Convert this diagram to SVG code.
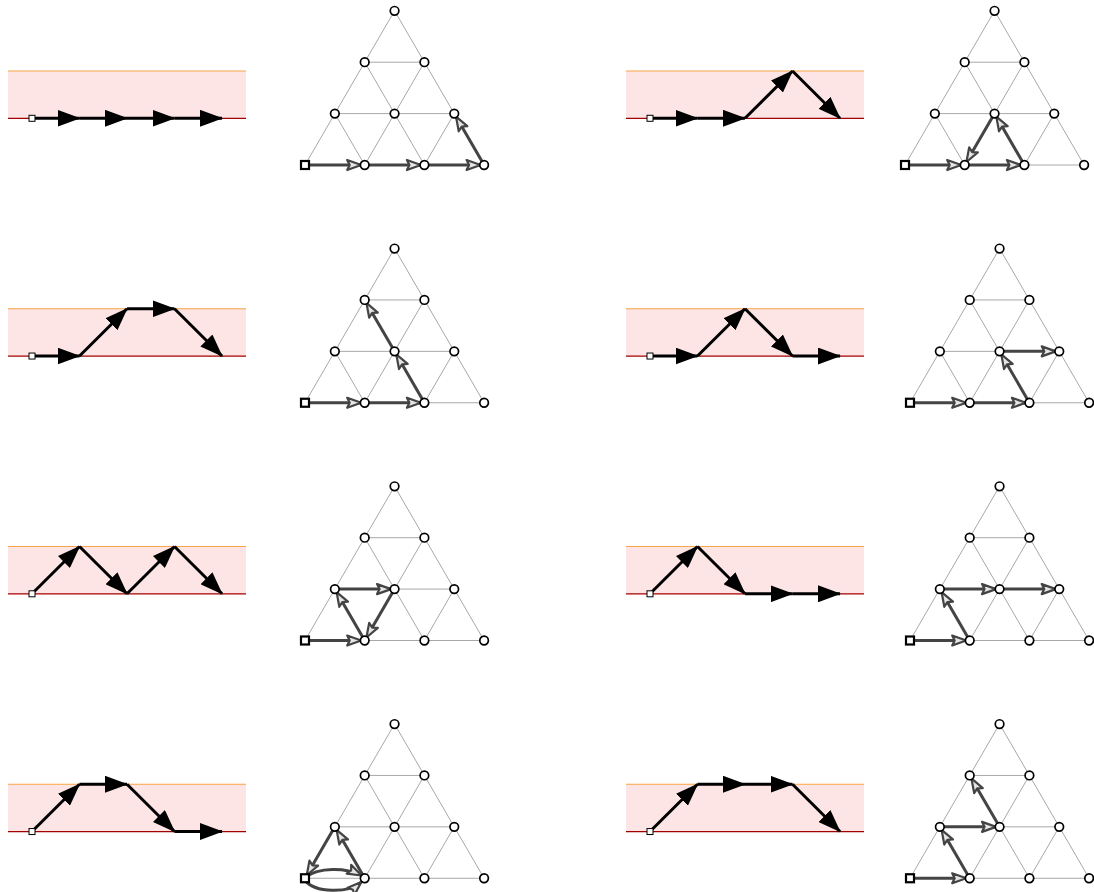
<svg xmlns="http://www.w3.org/2000/svg" xmlns:xlink="http://www.w3.org/1999/xlink" width="1094" height="892" viewBox="0 0 1094 892">
<style>
.band{fill:#fde4e5;stroke:none}
.top{stroke:#f7a546;stroke-width:1.2}
.bot{stroke:#a40000;stroke-width:1.2}
.grid{stroke:#a8a8a8;stroke-width:1;fill:none}
.node{fill:#ffffff;stroke:#000000;stroke-width:1.7}
.start{fill:#ffffff;stroke:#000000;stroke-width:2.2}
.sstart{fill:#ffffff;stroke:#000000;stroke-width:1}
.walk{stroke:#000000;stroke-width:3;fill:none;marker-end:url(#bigArrow)}
.tw{stroke:#444444;stroke-width:3;fill:none;marker-end:url(#openArrow)}
</style>
<defs>
<marker id="bigArrow" markerUnits="userSpaceOnUse" viewBox="0 0 23 17" markerWidth="23" markerHeight="17" refX="22" refY="8.5" orient="auto">
<path d="M0,0 L23,8.5 L0,17 z" fill="#000000"/>
</marker>
<marker id="openArrow" markerUnits="userSpaceOnUse" viewBox="-3 -3 20 16" markerWidth="20" markerHeight="16" refX="13.5" refY="5" orient="auto">
<path d="M0,0 L14,5 L0,10 L2.5,5 z" fill="#e6e6e6" stroke="#444444" stroke-width="2.2" stroke-linejoin="round"/>
</marker>
<g id="lattice" class="grid">
<path d="M0,0 H179.1 M29.85,-51.4 H149.25 M59.7,-102.8 H119.4 M0,0 L89.55,-154.2 M59.7,0 L119.4,-102.8 M119.4,0 L149.25,-51.4 M179.1,0 L89.55,-154.2 M119.4,0 L59.7,-102.8 M59.7,0 L29.85,-51.4"/>
</g>
<g id="latnodes">
<circle class="node" cx="59.7" cy="0" r="4.3"/>
<circle class="node" cx="119.4" cy="0" r="4.3"/>
<circle class="node" cx="179.1" cy="0" r="4.3"/>
<circle class="node" cx="29.85" cy="-51.4" r="4.3"/>
<circle class="node" cx="89.55" cy="-51.4" r="4.3"/>
<circle class="node" cx="149.25" cy="-51.4" r="4.3"/>
<circle class="node" cx="59.7" cy="-102.8" r="4.3"/>
<circle class="node" cx="119.4" cy="-102.8" r="4.3"/>
<circle class="node" cx="89.55" cy="-154.2" r="4.3"/>
<rect class="start" x="-4" y="-4" width="8" height="8"/>
</g>
<g id="bandbg">
<rect class="band" x="8" y="71" width="238" height="47.3"/>
<line class="top" x1="8" y1="71" x2="246" y2="71"/>
<line class="bot" x1="8" y1="118.3" x2="246" y2="118.3"/>
</g>
</defs>

<!-- band backgrounds -->
<g id="bands">
<use xlink:href="#bandbg" href="#bandbg"/>
<use xlink:href="#bandbg" href="#bandbg" transform="translate(618,0)"/>
<use xlink:href="#bandbg" href="#bandbg" transform="translate(0,237.75)"/>
<use xlink:href="#bandbg" href="#bandbg" transform="translate(618,237.75)"/>
<use xlink:href="#bandbg" href="#bandbg" transform="translate(0,475.5)"/>
<use xlink:href="#bandbg" href="#bandbg" transform="translate(618,475.5)"/>
<use xlink:href="#bandbg" href="#bandbg" transform="translate(0,713.25)"/>
<use xlink:href="#bandbg" href="#bandbg" transform="translate(618,713.25)"/>
</g>

<!-- lattice grids -->
<g id="grids">
<use xlink:href="#lattice" href="#lattice" transform="translate(305,165)"/>
<use xlink:href="#lattice" href="#lattice" transform="translate(905,165)"/>
<use xlink:href="#lattice" href="#lattice" transform="translate(305,402.75)"/>
<use xlink:href="#lattice" href="#lattice" transform="translate(910,402.75)"/>
<use xlink:href="#lattice" href="#lattice" transform="translate(305,640.5)"/>
<use xlink:href="#lattice" href="#lattice" transform="translate(910,640.5)"/>
<use xlink:href="#lattice" href="#lattice" transform="translate(305,878.25)"/>
<use xlink:href="#lattice" href="#lattice" transform="translate(910,878.25)"/>
</g>

<!-- connectors -->
<g id="connectors">
<!-- band walks -->
<g id="walk-1L">
<path class="walk" d="M32,118.3 L79.5,118.3"/>
<path class="walk" d="M79.5,118.3 L127,118.3"/>
<path class="walk" d="M127,118.3 L174.5,118.3"/>
<path class="walk" d="M174.5,118.3 L222,118.3"/>
</g>
<g id="walk-1R" transform="translate(618,0)">
<path class="walk" d="M32,118.3 L79.5,118.3"/>
<path class="walk" d="M79.5,118.3 L127,118.3"/>
<path class="walk" d="M127,118.3 L174.5,71"/>
<path class="walk" d="M174.5,71 L222,118.3"/>
</g>
<g id="walk-2L" transform="translate(0,237.75)">
<path class="walk" d="M32,118.3 L79.5,118.3"/>
<path class="walk" d="M79.5,118.3 L127,71"/>
<path class="walk" d="M127,71 L174.5,71"/>
<path class="walk" d="M174.5,71 L222,118.3"/>
</g>
<g id="walk-2R" transform="translate(618,237.75)">
<path class="walk" d="M32,118.3 L79.5,118.3"/>
<path class="walk" d="M79.5,118.3 L127,71"/>
<path class="walk" d="M127,71 L174.5,118.3"/>
<path class="walk" d="M174.5,118.3 L222,118.3"/>
</g>
<g id="walk-3L" transform="translate(0,475.5)">
<path class="walk" d="M32,118.3 L79.5,71"/>
<path class="walk" d="M79.5,71 L127,118.3"/>
<path class="walk" d="M127,118.3 L174.5,71"/>
<path class="walk" d="M174.5,71 L222,118.3"/>
</g>
<g id="walk-3R" transform="translate(618,475.5)">
<path class="walk" d="M32,118.3 L79.5,71"/>
<path class="walk" d="M79.5,71 L127,118.3"/>
<path class="walk" d="M127,118.3 L174.5,118.3"/>
<path class="walk" d="M174.5,118.3 L222,118.3"/>
</g>
<g id="walk-4L" transform="translate(0,713.25)">
<path class="walk" d="M32,118.3 L79.5,71"/>
<path class="walk" d="M79.5,71 L127,71"/>
<path class="walk" d="M127,71 L174.5,118.3"/>
<path class="walk" d="M174.5,118.3 L222,118.3"/>
</g>
<g id="walk-4R" transform="translate(618,713.25)">
<path class="walk" d="M32,118.3 L79.5,71"/>
<path class="walk" d="M79.5,71 L127,71"/>
<path class="walk" d="M127,71 L174.5,71"/>
<path class="walk" d="M174.5,71 L222,118.3"/>
</g>

<!-- triangle walks -->
<g id="tri-walk-1L" transform="translate(305,165)">
<path class="tw" d="M0,0 L55.7,0"/>
<path class="tw" d="M59.7,0 L115.4,0"/>
<path class="tw" d="M119.4,0 L175.1,0"/>
<path class="tw" d="M179.1,0 L151.25,-47.96"/>
</g>
<g id="tri-walk-1R" transform="translate(905,165)">
<path class="tw" d="M0,0 L55.7,0"/>
<path class="tw" d="M59.7,0 L115.4,0"/>
<path class="tw" d="M119.4,0 L91.55,-47.96"/>
<path class="tw" d="M89.55,-51.4 L61.7,-3.44"/>
</g>
<g id="tri-walk-2L" transform="translate(305,402.75)">
<path class="tw" d="M0,0 L55.7,0"/>
<path class="tw" d="M59.7,0 L115.4,0"/>
<path class="tw" d="M119.4,0 L91.55,-47.96"/>
<path class="tw" d="M89.55,-51.4 L61.7,-99.36"/>
</g>
<g id="tri-walk-2R" transform="translate(910,402.75)">
<path class="tw" d="M0,0 L55.7,0"/>
<path class="tw" d="M59.7,0 L115.4,0"/>
<path class="tw" d="M119.4,0 L91.55,-47.96"/>
<path class="tw" d="M89.55,-51.4 L145.25,-51.4"/>
</g>
<g id="tri-walk-3L" transform="translate(305,640.5)">
<path class="tw" d="M0,0 L55.7,0"/>
<path class="tw" d="M59.7,0 L31.85,-47.96"/>
<path class="tw" d="M29.85,-51.4 L85.55,-51.4"/>
<path class="tw" d="M89.55,-51.4 L61.7,-3.44"/>
</g>
<g id="tri-walk-3R" transform="translate(910,640.5)">
<path class="tw" d="M0,0 L55.7,0"/>
<path class="tw" d="M59.7,0 L31.85,-47.96"/>
<path class="tw" d="M29.85,-51.4 L85.55,-51.4"/>
<path class="tw" d="M89.55,-51.4 L145.25,-51.4"/>
</g>
<g id="tri-walk-4L" transform="translate(305,878.25)">
<path class="tw" d="M0,-1 C14,-11 40,-11 56,-3"/>
<path class="tw" d="M59.7,0 L31.85,-47.96"/>
<path class="tw" d="M29.85,-51.4 L2,-3.44"/>
<path class="tw" d="M0,2 C10,15 44,15 56,4"/>
</g>
<g id="tri-walk-4R" transform="translate(910,878.25)">
<path class="tw" d="M0,0 L55.7,0"/>
<path class="tw" d="M59.7,0 L31.85,-47.96"/>
<path class="tw" d="M29.85,-51.4 L85.55,-51.4"/>
<path class="tw" d="M89.55,-51.4 L61.7,-99.36"/>
</g>
</g>

<!-- band start nodes -->
<g id="start-1L"><rect class="sstart" x="29" y="115.3" width="6" height="6"/></g>
<g id="start-1R"><rect class="sstart" x="647" y="115.3" width="6" height="6"/></g>
<g id="start-2L"><rect class="sstart" x="29" y="353.05" width="6" height="6"/></g>
<g id="start-2R"><rect class="sstart" x="647" y="353.05" width="6" height="6"/></g>
<g id="start-3L"><rect class="sstart" x="29" y="590.8" width="6" height="6"/></g>
<g id="start-3R"><rect class="sstart" x="647" y="590.8" width="6" height="6"/></g>
<g id="start-4L"><rect class="sstart" x="29" y="828.55" width="6" height="6"/></g>
<g id="start-4R"><rect class="sstart" x="647" y="828.55" width="6" height="6"/></g>

<!-- triangle lattice nodes -->
<g id="nodes-1L"><use xlink:href="#latnodes" href="#latnodes" transform="translate(305,165)"/></g>
<g id="nodes-1R"><use xlink:href="#latnodes" href="#latnodes" transform="translate(905,165)"/></g>
<g id="nodes-2L"><use xlink:href="#latnodes" href="#latnodes" transform="translate(305,402.75)"/></g>
<g id="nodes-2R"><use xlink:href="#latnodes" href="#latnodes" transform="translate(910,402.75)"/></g>
<g id="nodes-3L"><use xlink:href="#latnodes" href="#latnodes" transform="translate(305,640.5)"/></g>
<g id="nodes-3R"><use xlink:href="#latnodes" href="#latnodes" transform="translate(910,640.5)"/></g>
<g id="nodes-4L"><use xlink:href="#latnodes" href="#latnodes" transform="translate(305,878.25)"/></g>
<g id="nodes-4R"><use xlink:href="#latnodes" href="#latnodes" transform="translate(910,878.25)"/></g>
</svg>
